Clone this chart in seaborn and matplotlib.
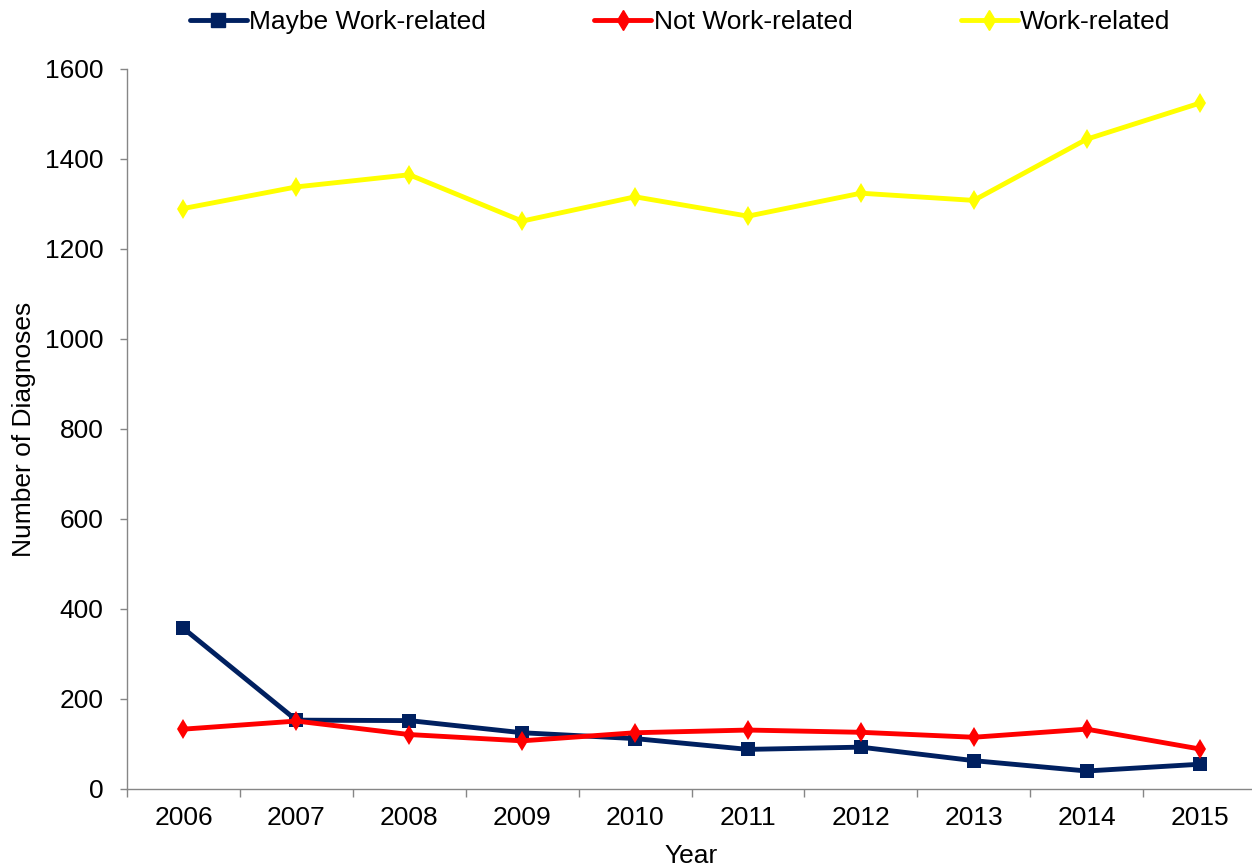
import matplotlib
matplotlib.use("Agg")
import matplotlib.pyplot as plt
import seaborn as sns
import pandas as pd
import numpy as np
from matplotlib.lines import Line2D

years = ["2006", "2007", "2008", "2009", "2010", "2011", "2012", "2013", "2014", "2015"]
maybe_work = [357, 153, 152, 125, 112, 88, 93, 63, 40, 55]
not_work = [133, 151, 121, 107, 125, 131, 126, 115, 133, 89]
work = [1290, 1338, 1365, 1262, 1316, 1273, 1324, 1308, 1444, 1524]
series_names = ["Maybe Work-related", "Not Work-related", "Work-related"]

rows = []
for name, vals in zip(series_names, [maybe_work, not_work, work]):
    for i, (y, v) in enumerate(zip(years, vals)):
        rows.append({"pos": i, "Year": y, "Series": name, "Value": v})
df = pd.DataFrame(rows)

sns.set_theme(style="white")
plt.rcParams["font.family"] = ["Liberation Sans", "DejaVu Sans"]
plt.rcParams["text.color"] = "black"
plt.rcParams["axes.labelcolor"] = "black"
plt.rcParams["xtick.color"] = "black"
plt.rcParams["ytick.color"] = "black"

FS = 19

fig = plt.figure(figsize=(12.52, 8.67), dpi=100)
ax = fig.add_axes([127 / 1252, 1 - 789 / 867, (1256 - 127) / 1252, (789 - 69) / 867])

palette = {"Maybe Work-related": "#002060", "Not Work-related": "#FF0000", "Work-related": "#FFFF00"}
markers = {"Maybe Work-related": "s", "Not Work-related": "d", "Work-related": "d"}
sizes_m = {"Maybe Work-related": 10, "Not Work-related": 10.5, "Work-related": 10.5}

sns.lineplot(data=df, x="pos", y="Value", hue="Series", style="Series",
             palette=palette, markers=markers, dashes=False, linewidth=3.5,
             markersize=10, markeredgewidth=0, ax=ax, legend=False)
for line, name in zip(ax.get_lines(), series_names):
    line.set_markersize(sizes_m[name])
    line.set_markeredgecolor(palette[name])

ax.set_xlim(-0.5, 9.5)
ax.set_ylim(0, 1600)
ax.set_yticks(np.arange(0, 1601, 200))
ax.set_xticks(range(len(years)))
ax.set_xticklabels(years)
ax.set_xticks(np.arange(-0.5, 10, 1), minor=True)
ax.tick_params(axis="x", which="major", length=0, pad=12, labelsize=FS, labelcolor="black")
ax.tick_params(axis="x", which="minor", length=6, width=1, color="#868686", direction="out", bottom=True)
ax.tick_params(axis="y", which="major", length=5, width=1, color="#868686", direction="out", left=True,
               labelsize=FS, pad=12, labelcolor="black")

for s in ["top", "right"]:
    ax.spines[s].set_visible(False)
for s in ["left", "bottom"]:
    ax.spines[s].set_color("#868686")
    ax.spines[s].set_linewidth(1)

ax.set_xlabel("Year", fontsize=FS, labelpad=10, color="black")
ax.set_ylabel("Number of Diagnoses", fontsize=FS, labelpad=6, color="black")
ax.grid(False)

handles = [Line2D([0], [0], color=palette[n], marker=markers[n], linewidth=3.5,
                  markersize=sizes_m[n], markeredgecolor=palette[n]) for n in series_names]
fig.legend(handles, series_names, loc="upper left", bbox_to_anchor=(190 / 1252, 1 - 10 / 867), ncol=3,
           frameon=False, fontsize=FS, handlelength=2.15, handletextpad=0.1, columnspacing=4.1,
           borderpad=0, borderaxespad=0)

fig.savefig("out.png", dpi=100, facecolor="white")
